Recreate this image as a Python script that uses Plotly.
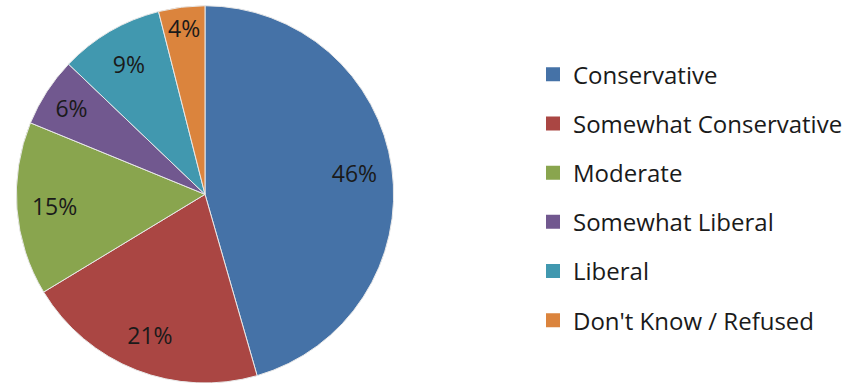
import plotly.graph_objects as go

# Survey breakdown of political ideology
categories = ["Conservative", "Somewhat Conservative", "Moderate",
              "Somewhat Liberal", "Liberal", "Don't Know / Refused"]
shares = [46, 21, 15, 6, 9, 4]
colors = ["#4572A7", "#AA4643", "#89A54E", "#71588F", "#4198AF", "#DB843D"]

FONT = "Open Sans"
W, H = 849, 383
PIE_DOMAIN = dict(x=[15 / W, 395 / W], y=[0.0, 0.985])

fig = go.Figure()

# Filled slices
fig.add_trace(go.Pie(
    labels=categories,
    values=shares,
    sort=False,
    direction="clockwise",
    rotation=0,
    marker=dict(colors=colors, line=dict(color="#e8e8e8", width=1)),
    textinfo="none",
    showlegend=False,
    hoverinfo="label+value",
    domain=PIE_DOMAIN,
))

# Transparent ring on top that carries the value labels out toward the rim
fig.add_trace(go.Pie(
    labels=categories,
    values=shares,
    sort=False,
    direction="clockwise",
    rotation=0,
    hole=0.6,
    marker=dict(colors=["rgba(0,0,0,0)"] * len(shares),
                line=dict(width=0)),
    texttemplate="%{value}%",
    textposition="inside",
    insidetextorientation="horizontal",
    textfont=dict(family=FONT, size=23, color="#1a1a1a"),
    showlegend=False,
    hoverinfo="skip",
    domain=PIE_DOMAIN,
))

# Legend entries, one group each so the rows can be spaced apart
for name, col in zip(categories, colors):
    fig.add_trace(go.Scatter(
        x=[None], y=[None], mode="markers", name=name,
        legendgroup=name,
        marker=dict(symbol="square", size=14, color=col),
    ))

fig.update_layout(
    width=W, height=H,
    margin=dict(l=0, r=0, t=0, b=0),
    paper_bgcolor="white",
    plot_bgcolor="white",
    xaxis=dict(visible=False),
    yaxis=dict(visible=False),
    uniformtext=dict(mode="show", minsize=23),
    legend=dict(
        x=533 / W, y=0.484, xanchor="left", yanchor="middle",
        font=dict(family=FONT, size=24, color="#1a1a1a"),
        tracegroupgap=15,
        traceorder="grouped",
        bgcolor="rgba(0,0,0,0)",
    ),
)

fig.write_html("out.html")
